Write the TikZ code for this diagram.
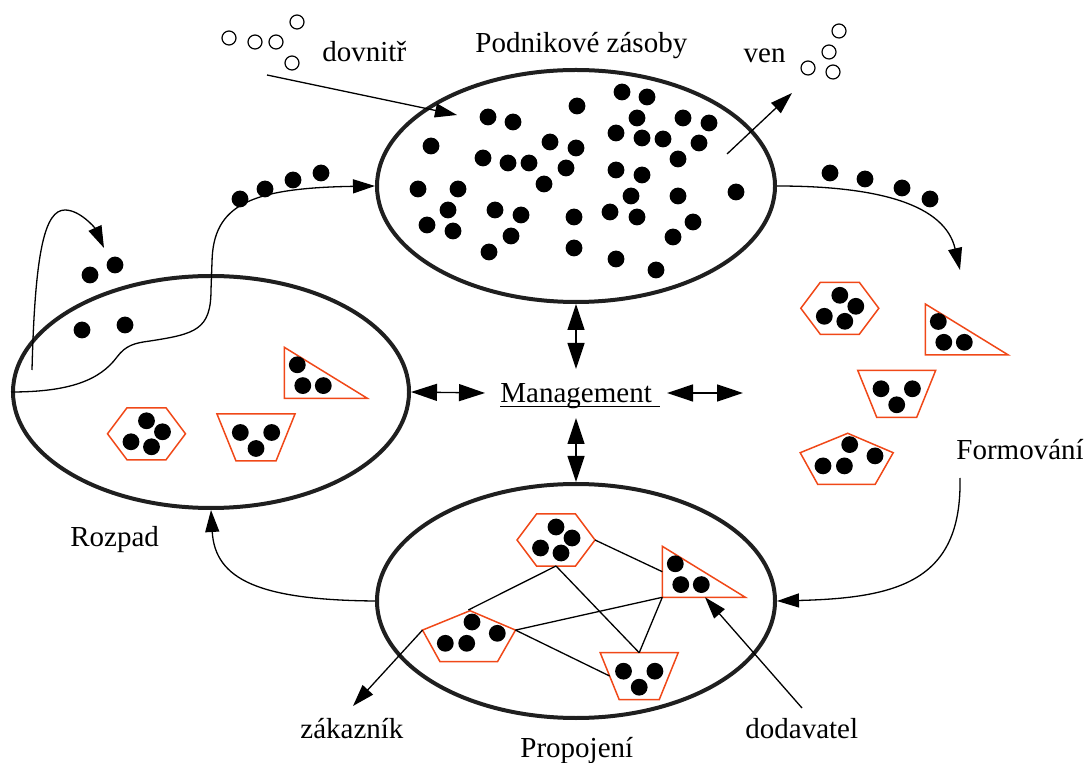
\documentclass[tikz,border=0pt]{standalone}
\usepackage{fontspec}
\setmainfont{Liberation Serif}
\usetikzlibrary{arrows.meta,shapes.geometric}
\definecolor{cellred}{RGB}{240,72,24}
\tikzset{
  pool/.style={draw=black!88, line width=2pt, ellipse, inner sep=0pt},
  cell/.style={draw=cellred, line width=0.75pt, line join=miter},
  link/.style={line width=0.65pt},
  flow/.style={line width=0.65pt, -{Triangle[length=11pt,width=7pt]}},
  twoway/.style={line width=0.65pt, {Triangle[length=13pt,width=8.5pt]}-{Triangle[length=13pt,width=8.5pt]}},
  lbl/.style={font=\fontsize{14.5}{17}\selectfont, inner sep=0pt},
  ring/.style={draw, line width=0.6pt},
}
% a solid particle
\newcommand\bead[1]{\fill #1 circle[radius=4.2pt];}
\newcommand\hollow[1]{\draw[ring] #1 circle[radius=3.5pt];}
% hexagonal cluster, centred at #2
\newcommand\hexcell[2]{%
  \begin{scope}[shift={#2}]
    \draw[cell] (-39,0) -- (-19.5,-26) -- (19.5,-26) -- (39,0) -- (19.5,26) -- (-19.5,26) -- cycle;
    \bead{(0,-13)}\bead{(16,-2)}\bead{(-15.5,8)}\bead{(5,13)}
    \coordinate (#1-s) at (0,26);
    \coordinate (#1-e) at (39,0);
  \end{scope}}
% right-angled triangle cluster, right angle at #2
\newcommand\tricell[2]{%
  \begin{scope}[shift={#2}]
    \draw[cell] (0,-51) -- (0,0) -- (83,0) -- cycle;
    \bead{(13,-33.5)}\bead{(18.5,-12.7)}\bead{(39,-12.7)}
    \coordinate (#1-w) at (0,-25.6);
    \coordinate (#1-sw) at (0,0);
    \coordinate (#1-s) at (42.7,0);
  \end{scope}}
% trapezoid cluster, top edge centred at #2
\newcommand\trapcell[2]{%
  \begin{scope}[shift={#2}]
    \draw[cell] (-39,0) -- (39,0) -- (20,47) -- (-20,47) -- cycle;
    \bead{(-15.7,18.5)}\bead{(15.7,18.5)}\bead{(0,34.5)}
    \coordinate (#1-n) at (0,0);
    \coordinate (#1-w) at (-29.6,23.3);
  \end{scope}}
% pentagon cluster, top vertex at #2
\newcommand\pentcell[2]{%
  \begin{scope}[shift={#2}]
    \draw[cell] (-47.5,19.4) -- (0,0) -- (45.5,19.4) -- (27.5,51) -- (-30,51) -- cycle;
    \bead{(2,11.3)}\bead{(27.3,22.6)}\bead{(-24.7,32.6)}\bead{(-3.3,32.6)}
    \coordinate (#1-n) at (-1.7,-0.7);
    \coordinate (#1-e) at (45.5,19.4);
    \coordinate (#1-w) at (-47.5,19.4);
  \end{scope}}
\begin{document}
\begin{tikzpicture}[x=0.5pt,y=-0.5pt]
\useasboundingbox (0,0) rectangle (1085,763);

% the three pools
\node[pool, minimum width=199pt, minimum height=116pt] (stock) at (576,186) {};
\node[pool, minimum width=198pt, minimum height=116pt] (decay) at (211,392) {};
\node[pool, minimum width=199pt, minimum height=117pt] (net) at (576,601) {};

% particles in stock
\foreach \p in {(488,117),(513,122),(577,106),(622,92),(647,97),(637,118),(683,118),(709,123),
  (431,146),(550,142),(576,148),(616,133),(642,138),(663,139),(699,143),
  (483,158),(508,163),(529,163),(566,168),(678,159),(544,184),(616,170),(642,175),
  (418,189),(458,189),(631,196),(678,196),(736,192),
  (448,210),(495,210),(521,215),(574,217),(610,212),(637,217),(693,222),
  (427,225),(453,231),(511,236),(673,237),(489,252),(574,248),(616,259),(656,270)}
  {\bead{\p}}

% loose particles outside
\foreach \p in {(229,38),(255,42),(276,42),(297,22),(292,63),(839,31),(829,52),(808,68),(833,72)}
  {\hollow{\p}}
\foreach \p in {(240,199),(265,189),(293,180),(321,173),(830,173),(865,179),(902,188),(930,199),
  (90,275),(115,265),(82,330),(125,325)}
  {\bead{\p}}

% clusters in the decay pool
\tricell{triL}{(284.3,398.3)}
\hexcell{hexL}{(146.5,433.8)}
\trapcell{trapL}{(256,414)}

% clusters being formed
\hexcell{hexR}{(839.8,308.3)}
\tricell{triR}{(925.3,355)}
\trapcell{trapR}{(896.7,370.3)}
\pentcell{pentR}{(847.7,433.3)}

% clusters in the network pool
\hexcell{hexB}{(556,540)}
\tricell{triB}{(662.3,597.3)}
\pentcell{pentB}{(470,610.7)}
\trapcell{trapB}{(639.2,652.7)}

\draw[link] (hexB-s) -- (pentB-n);
\draw[link] (hexB-s) -- (trapB-n);
\draw[link] (hexB-e) -- (triB-w);
\draw[link] (pentB-e) -- (triB-sw);
\draw[link] (pentB-e) -- (trapB-w);
\draw[link] (triB-sw) -- (trapB-n);

% free ends
\coordinate (inS) at (267,75);
\coordinate (inE) at (457,115);
\coordinate (outS) at (727,154);
\coordinate (outE) at (792,93);
\coordinate (loopS) at (32,370);
\coordinate (loopE) at (104,248);
\coordinate (formIn) at (960,270);
\coordinate (formOut) at (960,478);
\coordinate (cust) at (353,706);
\coordinate (supp) at (802,708);
\coordinate (mgN) at (576,369);
\coordinate (mgS) at (576,418);
\coordinate (mgW) at (485,393);
\coordinate (mgE) at (667,393);
\coordinate (mgEE) at (743,393);

% flows
\draw[flow] (inS) -- (inE);
\draw[flow] (outS) -- (outE);
\draw[flow] (loopS) .. controls (35,250) and (45,210) .. (65,210) .. controls (80,210) and (95,228) .. (loopE);
\draw[flow] (decay.west) .. controls (70,392) and (100,380) .. (117,357)
  .. controls (126,345) and (135,343) .. (150,341)
  .. controls (195,334) and (211,330) .. (211,290) -- (212,262)
  .. controls (213,205) and (250,188) .. (stock.west);
\draw[flow] (stock.east) .. controls (880,186) and (945,205) .. (formIn);
\draw[flow] (formOut) .. controls (962,580) and (900,598) .. (net.east);
\draw[flow] (net.west) .. controls (260,600) and (215,580) .. (decay.south);
\draw[flow] (pentB-w) -- (cust);
\draw[flow] (supp) -- (triB-s);

% management
\node[lbl, anchor=base west] (mgmt) at (500,403) {Management};
\draw[link] ([yshift=-1.6pt]mgmt.base west) -- ++(160,0);
\draw[twoway] (stock.south) -- (mgN);
\draw[twoway] (mgS) -- (net.north);
\draw[twoway] (decay.east) -- (mgW);
\draw[twoway] (mgE) -- (mgEE);

% labels
\node[lbl, anchor=base west] (tIn) at (322,62) {dovnitř};
\node[lbl, anchor=base east] (tOut) at (786,63) {ven};
\node[lbl, anchor=base west] (tStock) at (475,53) {Podnikové zásoby};
\node[lbl, anchor=base west] (tForm) at (956,460) {Formování};
\node[lbl, anchor=base west] (tDecay) at (70,546) {Rozpad};
\node[lbl, anchor=base west] (tNet) at (520,757) {Propojení};
\node[lbl, anchor=base west] (tCust) at (300,738) {zákazník};
\node[lbl, anchor=base west] (tSupp) at (745,738) {dodavatel};
\end{tikzpicture}
\end{document}
